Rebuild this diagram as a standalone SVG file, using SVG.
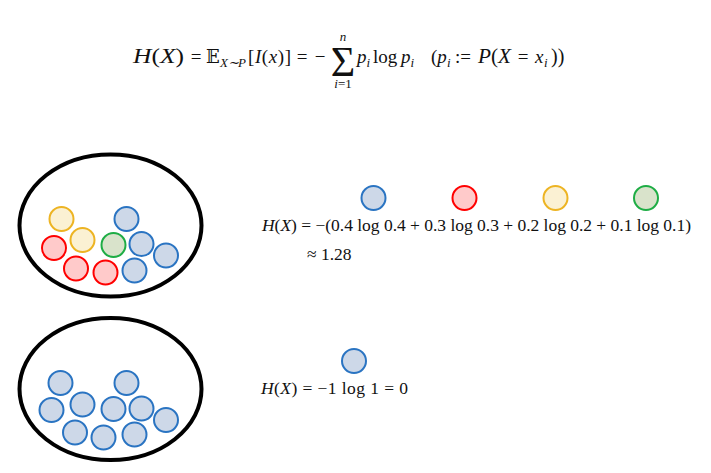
<svg xmlns="http://www.w3.org/2000/svg" width="711" height="473" viewBox="0 0 711 473">
<style>
.bag{fill:none;stroke:#000;stroke-width:4}
.ball{stroke-width:2}
.b{fill:#CDD8E8;stroke:#2A74C2}
.r{fill:#FFCACA;stroke:#FF0000}
.y{fill:#FBF1D3;stroke:#EDB423}
.g{fill:#D9E3CB;stroke:#1EAD45}
.m{font-family:"Liberation Serif","Times New Roman",serif;fill:#111}
.i{font-style:italic}
.sub{font-size:13px}
</style>
<rect width="711" height="473" fill="#fff"/>

<g id="formula-top" class="m" font-size="19">
  <text x="133" y="63" font-size="20.5" textLength="51" lengthAdjust="spacingAndGlyphs"><tspan class="i">H</tspan>(<tspan class="i">X</tspan>)</text>
  <text x="196" y="63" text-anchor="middle">=</text>
  <text x="206" y="63" font-family="DejaVu Serif" font-size="18">𝔼</text>
  <text x="220" y="67" class="sub i" textLength="26" lengthAdjust="spacing">X∼P</text>
  <text x="248" y="63" textLength="43" lengthAdjust="spacing">[<tspan class="i">I</tspan>(<tspan class="i">x</tspan>)]</text>
  <text x="302" y="63" text-anchor="middle">=</text>
  <text x="320" y="63" text-anchor="middle">−</text>
  <text x="343" y="76" font-size="42" text-anchor="middle">Σ</text>
  <text x="343" y="41" class="sub i" text-anchor="middle">n</text>
  <text x="343" y="88" class="sub" text-anchor="middle"><tspan class="i">i</tspan>=1</text>
  <text x="357" y="63" class="i">p</text>
  <text x="366.5" y="67" class="sub i">i</text>
  <text x="373" y="63">log</text>
  <text x="401" y="63" class="i">p</text>
  <text x="410.5" y="67" class="sub i">i</text>
  <text x="431" y="63">(<tspan class="i">p</tspan></text>
  <text x="447" y="67" class="sub i">i</text>
  <text x="455" y="63">:=</text>
  <text x="478" y="63" font-size="20" textLength="33" lengthAdjust="spacingAndGlyphs"><tspan class="i">P</tspan>(<tspan class="i">X</tspan></text>
  <text x="523" y="63" text-anchor="middle">=</text>
  <text x="535" y="63" class="i">x</text>
  <text x="544" y="67" class="sub i">i</text>
  <text x="551" y="63" font-size="20">))</text>
</g>

<g id="bag-mixed">
  <ellipse class="bag" cx="110.5" cy="225.5" rx="91" ry="71"/>
  <circle class="ball y" cx="61.5" cy="219" r="12"/>
  <circle class="ball b" cx="126.5" cy="219" r="12"/>
  <circle class="ball r" cx="54" cy="248" r="12"/>
  <circle class="ball y" cx="82.5" cy="240" r="12"/>
  <circle class="ball g" cx="113.5" cy="245" r="12"/>
  <circle class="ball b" cx="141.5" cy="244" r="12"/>
  <circle class="ball b" cx="166" cy="255.5" r="12"/>
  <circle class="ball r" cx="76" cy="268.5" r="12"/>
  <circle class="ball r" cx="105.5" cy="272.5" r="12"/>
  <circle class="ball b" cx="134.5" cy="270.5" r="12"/>
</g>

<g id="legend-mixed">
  <circle class="ball b" cx="373.5" cy="198" r="12"/>
  <circle class="ball r" cx="464.5" cy="198" r="12"/>
  <circle class="ball y" cx="555.5" cy="198" r="12"/>
  <circle class="ball g" cx="646" cy="198" r="12"/>
</g>

<g id="entropy-mixed" class="m" font-size="17.5">
  <text x="262" y="231" textLength="429" lengthAdjust="spacing"><tspan class="i">H</tspan>(<tspan class="i">X</tspan>) = −(0.4 log 0.4 + 0.3 log 0.3 + 0.2 log 0.2 + 0.1 log 0.1)</text>
  <text x="307" y="260">≈ 1.28</text>
</g>

<g id="bag-uniform">
  <ellipse class="bag" cx="110.5" cy="389" rx="91" ry="71"/>
  <circle class="ball b" cx="60.5" cy="383" r="12"/>
  <circle class="ball b" cx="126.5" cy="383" r="12"/>
  <circle class="ball b" cx="51.5" cy="410" r="12"/>
  <circle class="ball b" cx="82.5" cy="404.5" r="12"/>
  <circle class="ball b" cx="113.5" cy="409" r="12"/>
  <circle class="ball b" cx="141.5" cy="408.5" r="12"/>
  <circle class="ball b" cx="166" cy="420" r="12"/>
  <circle class="ball b" cx="75" cy="432.5" r="12"/>
  <circle class="ball b" cx="103.5" cy="437.5" r="12"/>
  <circle class="ball b" cx="134.5" cy="434.5" r="12"/>
</g>

<g id="legend-uniform">
  <circle class="ball b" cx="354" cy="361" r="12"/>
</g>

<g id="entropy-uniform" class="m" font-size="17.5">
  <text x="261" y="394" textLength="147" lengthAdjust="spacing"><tspan class="i">H</tspan>(<tspan class="i">X</tspan>) = −1 log 1 = 0</text>
</g>
</svg>
